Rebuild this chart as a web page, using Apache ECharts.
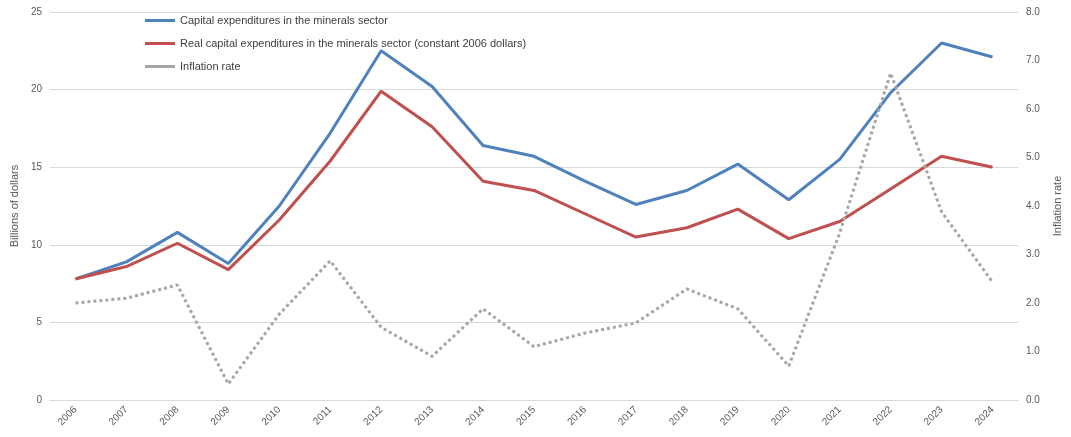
<!DOCTYPE html>
<html>
<head>
<meta charset="utf-8">
<script src="https://cdn.jsdelivr.net/npm/echarts@6/dist/echarts.min.js"></script>
<style>html,body{margin:0;padding:0;background:#fff}#chart{width:1071px;height:437px}</style>
</head>
<body>
<div id="chart"></div>
<script>
var years = ['2006','2007','2008','2009','2010','2011','2012','2013','2014','2015','2016','2017','2018','2019','2020','2021','2022','2023','2024'];
var capex = [7.8, 8.9, 10.8, 8.8, 12.5, 17.2, 22.5, 20.2, 16.4, 15.7, 14.1, 12.6, 13.5, 15.2, 12.9, 15.5, 19.8, 23.0, 22.1];
var realCapex = [7.8, 8.6, 10.1, 8.4, 11.6, 15.4, 19.9, 17.6, 14.1, 13.5, 12.0, 10.5, 11.1, 12.3, 10.4, 11.5, 13.6, 15.7, 15.0];
var inflation = [2.0, 2.1, 2.37, 0.33, 1.77, 2.87, 1.5, 0.9, 1.88, 1.1, 1.38, 1.59, 2.29, 1.88, 0.7, 3.44, 6.74, 3.88, 2.43];

var chart = echarts.init(document.getElementById('chart'));
var txt = { color: '#595959', fontFamily: 'Liberation Sans', fontSize: 10 };
chart.setOption({
  animation: false,
  grid: { left: 50, right: 48, top: 12, bottom: 37 },
  legend: {
    orient: 'vertical', left: 140, top: 10, itemGap: 12, itemWidth: 30, itemHeight: 3,
    icon: 'rect',
    textStyle: { color: '#404040', fontFamily: 'Liberation Sans', fontSize: 11 },
    data: ['Capital expenditures in the minerals sector', 'Real capital expenditures in the minerals sector (constant 2006 dollars)', 'Inflation rate']
  },
  xAxis: {
    type: 'category', data: years, boundaryGap: true,
    axisLine: { lineStyle: { color: '#d9d9d9' } }, axisTick: { show: false },
    axisLabel: Object.assign({ rotate: 45, margin: 8 }, txt)
  },
  yAxis: [{
    type: 'value', min: 0, max: 25, interval: 5,
    name: 'Billions of dollars', nameLocation: 'middle', nameGap: 30,
    nameTextStyle: { color: '#595959', fontFamily: 'Liberation Sans', fontSize: 11 },
    axisLabel: txt,
    splitLine: { lineStyle: { color: '#d9d9d9' } }
  }, {
    type: 'value', min: 0, max: 8, interval: 1,
    name: 'Inflation rate', nameLocation: 'middle', nameGap: 34, nameRotate: 90,
    nameTextStyle: { color: '#595959', fontFamily: 'Liberation Sans', fontSize: 11 },
    axisLabel: Object.assign({ formatter: function (v) { return v.toFixed(1); } }, txt),
    splitLine: { show: false }
  }],
  series: [{
    name: 'Capital expenditures in the minerals sector', type: 'line', data: capex,
    symbol: 'none', color: '#4f81bd', lineStyle: { width: 3, color: '#4f81bd' }
  }, {
    name: 'Real capital expenditures in the minerals sector (constant 2006 dollars)', type: 'line', data: realCapex,
    symbol: 'none', color: '#c0504d', lineStyle: { width: 3, color: '#c0504d' }
  }, {
    name: 'Inflation rate', type: 'line', yAxisIndex: 1, data: inflation,
    symbol: 'none', color: '#a6a6a6', lineStyle: { width: 3, type: [3, 3], color: '#a6a6a6' }
  }]
});
</script>
</body>
</html>
